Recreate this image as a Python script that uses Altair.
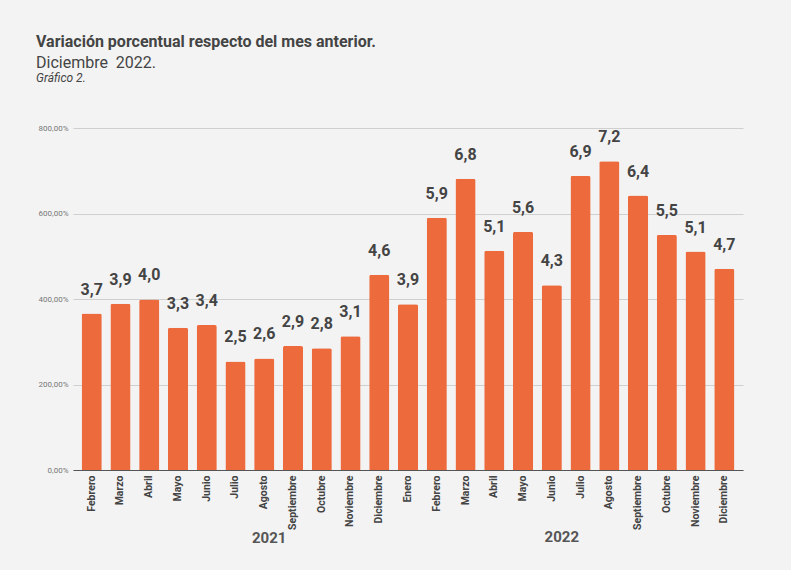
import altair as alt
import pandas as pd

months = ["Febrero", "Marzo", "Abril", "Mayo", "Junio", "Julio", "Agosto",
          "Septiembre", "Octubre", "Noviembre", "Diciembre",
          "Enero", "Febrero", "Marzo", "Abril", "Mayo", "Junio", "Julio",
          "Agosto", "Septiembre", "Octubre", "Noviembre", "Diciembre"]
years = [2021] * 11 + [2022] * 12
values = [366, 389, 399, 333, 339, 254, 261, 290, 285, 313, 457,
          388, 590, 681, 513, 557, 432, 688, 722, 642, 550, 511, 471]
labels = ["3,7", "3,9", "4,0", "3,3", "3,4", "2,5", "2,6", "2,9", "2,8", "3,1", "4,6",
          "3,9", "5,9", "6,8", "5,1", "5,6", "4,3", "6,9", "7,2", "6,4", "5,5", "5,1", "4,7"]
y_ticks = [0, 200, 400, 600, 800]
year_labels = ["2021", "2022"]

keys = [f"{m} {y}" for m, y in zip(months, years)]
df = pd.DataFrame({"key": keys, "mes": months, "anio": years,
                   "valor": values, "etiqueta": labels})

TEXT = "#444444"
FONT = "Roboto"

x_enc = alt.X("key:N", sort=keys,
              scale=alt.Scale(paddingInner=0.3, paddingOuter=0.3),
              axis=alt.Axis(title=None, labelAngle=-90, labelAlign="right",
                            labelBaseline="middle",
                            labelExpr="split(datum.label, ' ')[0]",
                            labelFont=FONT, labelFontWeight="bold",
                            labelFontSize=10.5, labelColor=TEXT,
                            labelPadding=5, ticks=False, domain=True,
                            domainColor="#555555", domainWidth=1, grid=False))

y_enc = alt.Y("valor:Q",
              scale=alt.Scale(domain=[0, 800], nice=False),
              axis=alt.Axis(title=None, values=y_ticks,
                            labelExpr="replace(format(datum.value, '.2f'), '.', ',') + '%'",
                            labelFont=FONT, labelFontSize=8, labelColor="#777777",
                            labelPadding=5, ticks=False, domain=False,
                            grid=True, gridColor="#cfcfcf", gridWidth=1))

base = alt.Chart(df)

bars = base.mark_bar(color="#ED6A3D", cornerRadiusTopLeft=2,
                     cornerRadiusTopRight=2).encode(x=x_enc, y=y_enc)

texts = base.mark_text(font=FONT, fontWeight="bold", fontSize=16, color=TEXT,
                       baseline="alphabetic", dy=-19).encode(
    x=alt.X("key:N", sort=keys), y="valor:Q", text="etiqueta:N")

y1 = alt.Chart(pd.DataFrame({"key": [keys[6]], "t": [year_labels[0]]})).mark_text(
    font=FONT, fontWeight="bold", fontSize=15, color="#555555",
    baseline="middle", dx=5).encode(x=alt.X("key:N", sort=keys),
                                    y=alt.value(410), text="t:N")
y2 = alt.Chart(pd.DataFrame({"key": [keys[16]], "t": [year_labels[1]]})).mark_text(
    font=FONT, fontWeight="bold", fontSize=15, color="#555555",
    baseline="middle", dx=10).encode(x=alt.X("key:N", sort=keys),
                                     y=alt.value(409), text="t:N")

grafico = alt.Chart(pd.DataFrame({"t": ["Gráfico 2."]})).mark_text(
    font=FONT, fontStyle="italic", fontSize=12, color=TEXT, align="left",
    baseline="middle").encode(x=alt.value(-37), y=alt.value(-50), text="t:N")

chart = alt.layer(bars, texts, y1, y2, grafico).properties(
    width=670, height=342,
    title=alt.TitleParams(
        text="Variación porcentual respecto del mes anterior.",
        subtitle=["Diciembre\u00a0 2022."],
        anchor="start", frame="group", dx=-37, offset=1,
        font=FONT, fontSize=16, fontWeight="bold", color=TEXT,
        subtitleFont=FONT, subtitleFontSize=16, subtitleColor=TEXT,
        subtitleFontWeight="normal", subtitlePadding=5),
    autosize=alt.AutoSizeParams(type="none"),
    padding={"left": 73, "top": 128, "right": 48, "bottom": 100},
    background="#F3F3F3",
).configure_view(stroke=None)

chart.save("out.html", embed_options={"renderer": "svg", "actions": False})
